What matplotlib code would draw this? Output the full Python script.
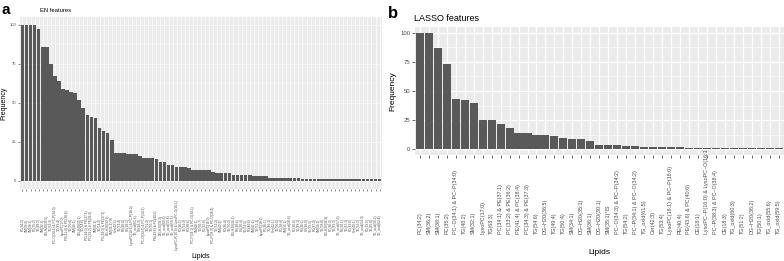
import matplotlib
matplotlib.use("Agg")
import matplotlib.pyplot as plt
import numpy as np

plt.rcParams['font.family'] = ['Liberation Sans', 'DejaVu Sans']

# ---------------- data ----------------
en_values = [100, 100, 100, 100, 97, 86, 86, 75, 67, 64, 59, 58, 57, 56, 52, 47, 42, 41, 40,
             34, 32, 31, 26, 18, 18, 18, 17, 17, 17, 16, 15, 15, 15, 14, 12, 12, 10, 10,
             9, 9, 9, 8, 7, 7, 7, 7, 7, 6, 5, 5, 5, 5, 4, 4, 4, 4, 4, 3, 3, 3, 3,
             2, 2, 2, 2, 2, 2, 2, 2, 1, 1, 1, 1, 1, 1, 1, 1, 1, 1, 1, 1, 1, 1, 1, 1, 1, 1, 1, 1]
en_labels = ["PC(34:2)", "SM(36:2)", "SM(38:1)", "PC(35:2)", "TG(48:2)", "SM(32:1)",
             "DG-H20(36:5)", "TG(63:3)", "PC-O(34:1) & PC-P(34:0)", "TG(49:4)", "LysoPC(17:0)",
             "PE(41:4) & PC(38:4)", "TG(50:4)", "SM(34:1)", "DG-H20(35:1)", "TG(54:6)",
             "PC(34:1) & PE(37:1)", "PC(33:2) & PE(36:2)", "SM(36:1)", "TG(54:2)",
             "PC(34:3) & PE(37:3)", "DG-H20(30:1)", "SM(35:1)*IS", "Cer(42:3)", "TG(53:4)",
             "PE(40:4)", "CE(18:1)", "LysoPC(18:1) & PC-P(18:0)", "TG_oxid(61:5)", "CE(18:3)",
             "PC-O(34:3) & PC-P(34:2)", "TG(51:2)", "TG(50:1)", "PE(43:6) & PC(40:6)",
             "DG-H20(36:2)", "TG_oxid(60:3)", "TG_oxid(55:6)", "TG_oxid(59:5)",
             "LysoPC-P(16:0) & LysoPC-O(16:1)", "PC(36:2)", "TG(52:3)", "PC(38:6)",
             "PC-P(34:1) & PC-O(34:2)", "SM(40:1)", "TG(56:7)", "PC(32:0)", "LysoPC(16:0)",
             "PC-P(38:3) & PC-O(38:4)", "TG(52:2)", "SM(42:2)", "PC(36:4)", "TG(50:2)",
             "DG-H20(34:1)", "PE(38:4)", "CE(20:4)", "TG(54:5)", "PC(40:6)", "SM(41:1)",
             "TG(51:3)", "LysoPC(18:2)", "PC(36:1)", "TG(46:1)", "Cer(42:1)", "TG(56:6)",
             "PC(38:4)", "SM(33:1)", "TG_oxid(58:4)", "PC(30:0)", "TG(48:1)", "PE(36:2)",
             "CE(16:0)", "TG(55:5)", "PC(37:4)", "SM(39:1)", "TG(58:8)", "DG-H20(36:3)",
             "PC(36:3)", "TG(49:2)", "TG_oxid(57:6)", "PE(34:1)", "TG(47:1)", "PC(31:0)",
             "Cer(40:1)", "TG(53:2)", "TG_oxid(54:3)", "PC(39:5)", "TG(45:0)", "TG_oxid(56:2)",
             "TG_oxid(62:4)"]

lasso_values = [100, 100, 87, 73, 43, 42, 40, 25, 25, 22, 18, 14, 14, 12, 12, 11, 10, 9, 9, 7,
                4, 4, 4, 3, 3, 2, 2, 2, 2, 2, 1, 1, 1, 1, 1, 1, 1, 1, 1, 1, 1]
lasso_labels = ["PC(34:2)", "SM(36:2)", "SM(38:1)", "PC(35:2)", "PC\u2013O(34:1) & PC\u2013P(34:0)",
                "TG(48:2)", "SM(32:1)", "LysoPC(17:0)", "TG(63:3)", "PC(34:1) & PE(37:1)",
                "PC(33:2) & PE(36:2)", "PE(41:4) & PC(38:4)", "PC(34:3) & PE(37:3)", "TG(54:6)",
                "DG\u2013H20(36:5)", "TG(49:4)", "TG(50:4)", "SM(34:1)", "DG\u2013H20(35:1)",
                "SM(36:1)", "DG\u2013H20(30:1)", "SM(35:1)*IS", "PC\u2013O(34:3) & PC\u2013P(34:2)",
                "TG(54:2)", "PC\u2013P(34:1) & PC\u2013O(34:2)", "TG_oxid(61:5)", "Cer(42:3)",
                "TG(53:4)", "LysoPC(18:1) & PC\u2013P(18:0)", "PE(40:4)", "PE(43:6) & PC(40:6)",
                "CE(18:1)", "LysoPC\u2013P(16:0) & LysoPC\u2013O(16:1)", "PC\u2013P(38:3) & PC\u2013O(38:4)",
                "CE(18:3)", "TG_oxid(60:3)", "TG(51:2)", "DG\u2013H20(36:2)", "TG(50:1)",
                "TG_oxid(55:6)", "TG_oxid(59:5)"]
y_ticks = [0, 25, 50, 75, 100]

W, H = 784, 261
fig = plt.figure(figsize=(W / 100, H / 100), dpi=100)

BG = "#EBEBEB"
BAR = "#595959"
TXT = "#4D4D4D"


def style(ax, n, tick_fs, grid_lw, minor_lw, tick_len, tick_w):
    ax.set_facecolor(BG)
    for s in ax.spines.values():
        s.set_visible(False)
    ax.set_xlim(-0.6, n - 0.4)
    ax.set_ylim(-5, 105)
    ax.set_yticks(y_ticks)
    ax.set_yticks([12.5, 37.5, 62.5, 87.5], minor=True)
    ax.set_yticklabels([str(v) for v in y_ticks], fontsize=tick_fs, color=TXT)
    ax.grid(True, which="major", color="white", lw=grid_lw)
    ax.grid(True, which="minor", axis="y", color="white", lw=minor_lw)
    ax.set_axisbelow(True)
    ax.tick_params(axis="both", which="major", length=tick_len, width=tick_w, color="#333333", pad=1)
    ax.tick_params(axis="y", which="minor", length=0)


# ---------- panel a ----------
ax1 = fig.add_axes([20 / W, 1 - 188.8 / H, 362 / W, (188.8 - 16.9) / H])
n1 = len(en_values)
x1 = np.arange(n1)
ax1.bar(x1, en_values, width=0.9, color=BAR, linewidth=0)
style(ax1, n1, 3.0, 0.5, 0.25, 1.5, 0.4)
ax1.set_xticks(x1)
ax1.set_xticklabels(en_labels[:n1], rotation=90, fontsize=2.3, color=TXT, va="center")
for t in ax1.get_xticklabels():
    t.set_y(-0.19)
ax1.set_ylabel("Frequency", fontsize=5.0, labelpad=2)
ax1.set_xlabel("Lipids", fontsize=5.0, va="center")
ax1.xaxis.set_label_coords(0.5, -0.395)
fig.text(2 / W, 1 - 14 / H, "a", fontsize=11, fontweight="bold", va="baseline")
fig.text(40 / W, 1 - 12 / H, "EN features", fontsize=4.2, va="baseline")

# ---------- panel b ----------
ax2 = fig.add_axes([414.5 / W, 1 - 155.1 / H, (784 - 414.5) / W, (155.1 - 26.9) / H])
n2 = len(lasso_values)
x2 = np.arange(n2)
ax2.bar(x2, lasso_values, width=0.9, color=BAR, linewidth=0)
style(ax2, n2, 4.3, 0.9, 0.45, 2.0, 0.5)
ax2.set_xticks(x2)
ax2.set_xticklabels(lasso_labels, rotation=90, fontsize=3.85, color=TXT, va="bottom")
for t in ax2.get_xticklabels():
    t.set_y(-0.585)
ax2.set_ylabel("Frequency", fontsize=6.0, labelpad=3)
ax2.set_xlabel("Lipids", fontsize=6.0)
ax2.xaxis.set_label_coords(0.5, -0.73)
fig.text(388 / W, 1 - 18 / H, "b", fontsize=12, fontweight="bold", va="baseline")
fig.text(414 / W, 1 - 21 / H, "LASSO features", fontsize=6.5, va="baseline")

fig.savefig("out.png", dpi=100)
